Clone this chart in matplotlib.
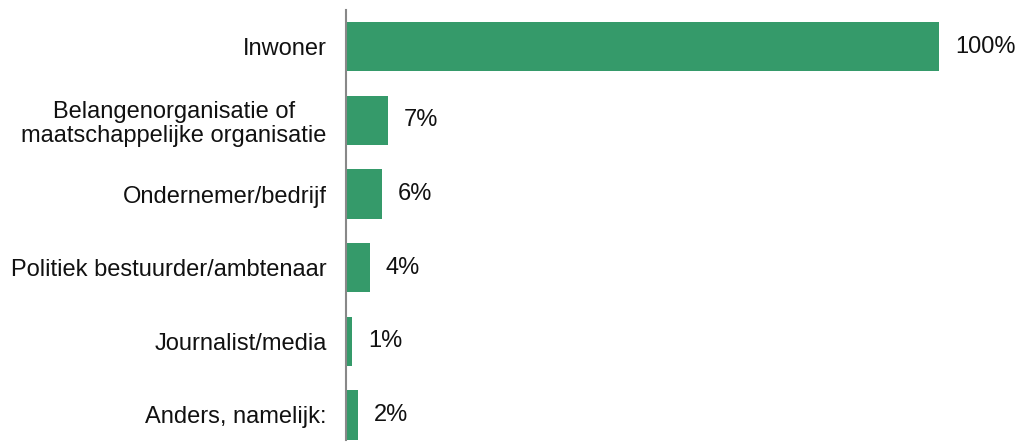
import matplotlib.pyplot as plt
import numpy as np

plt.rcParams["font.family"] = ["Liberation Sans", "DejaVu Sans"]

categories = [
    "Inwoner",
    "Belangenorganisatie of\nmaatschappelijke organisatie",
    "Ondernemer/bedrijf",
    "Politiek bestuurder/ambtenaar",
    "Journalist/media",
    "Anders, namelijk:",
]
percentages = [100, 7, 6, 4, 1, 2]

BAR_COLOR = "#359a6a"

fig = plt.figure(figsize=(10.24, 4.43), dpi=100)
ax = fig.add_axes([346 / 1024, 3 / 443, 664 / 1024, 430 / 443])

y = np.arange(len(categories))
bars = ax.barh(y, percentages, height=0.67, color=BAR_COLOR)

for bar, val in zip(bars, percentages):
    ax.annotate(f"{val}%", (bar.get_width(), bar.get_y() + bar.get_height() / 2),
                xytext=(11.5, 0), textcoords="offset points",
                ha="left", va="center", fontsize=17, color="#111111")

ax.set_yticks(y)
ax.set_yticklabels(categories, fontsize=17, color="#111111", linespacing=1.1)
ax.tick_params(axis="y", length=0, pad=14)
for lbl in ax.get_yticklabels():
    lbl.set_horizontalalignment("right")
    lbl.set_multialignment("center")

ax.set_xlim(0, 100 * 664 / 593)
ax.set_ylim(len(categories) - 1 + 0.34, -0.5)
ax.set_xticks([])

for side in ["top", "right", "bottom"]:
    ax.spines[side].set_visible(False)
ax.spines["left"].set_color("#888888")
ax.spines["left"].set_linewidth(1.5)

fig.savefig("out.png", dpi=100, facecolor="white")
